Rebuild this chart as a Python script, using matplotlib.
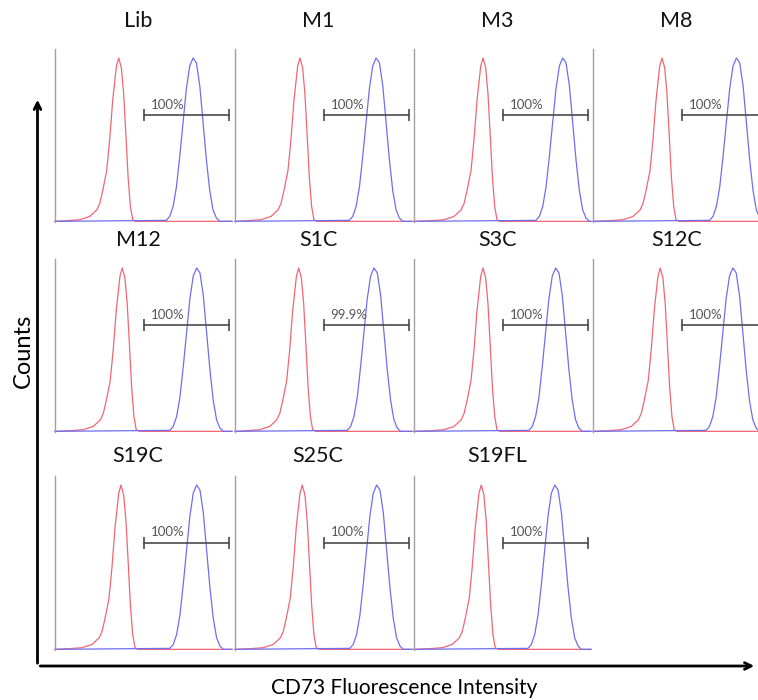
"""Flow cytometry overlays: CD73 staining (blue) vs isotype control (red) per clone."""
import numpy as np
import matplotlib
matplotlib.use("Agg")
import matplotlib.pyplot as plt
from matplotlib.patches import FancyArrowPatch

plt.rcParams["font.family"] = ["Lato", "DejaVu Sans"]

W, H = 758, 700

# sample names, row-major, 4 per row
SAMPLES = ["Lib", "M1", "M3", "M8",
           "M12", "S1C", "S3C", "S12C",
           "S19C", "S25C", "S19FL"]
GATE_PCT = ["100%", "100%", "100%", "100%",
            "100%", "99.9%", "100%", "100%",
            "100%", "100%", "100%"]
# peak positions on a 0-100 intensity scale
RED_PEAK = [36.0, 36.7, 39.0, 39.0, 38.0, 36.0, 39.0, 38.0, 37.3, 38.0, 38.0]
BLUE_PEAK = [78.0, 79.7, 84.0, 81.0, 80.0, 78.5, 80.0, 79.0, 80.0, 80.0, 79.5]

# normalised histogram profiles (offset from peak, relative count)
RED_OFF = [-29.4, -22.0, -16.4, -12.4, -10.7, -9.0, -6.8, -5.1, -3.4, -1.3,
           0.0, 1.5, 2.8, 4.0, 5.3, 6.6, 7.9, 9.6]
RED_H = [0.004, 0.01, 0.03, 0.07, 0.11, 0.19, 0.31, 0.50, 0.74, 0.95,
         1.0, 0.94, 0.78, 0.54, 0.27, 0.09, 0.01, 0.0]
BLUE_OFF = [-15.1, -13.2, -11.3, -9.4, -7.5, -5.7, -3.8, -1.9, 0.0,
            1.9, 3.8, 5.7, 7.5, 9.4, 11.3, 13.2, 15.1]
BLUE_H = [0.006, 0.03, 0.09, 0.21, 0.40, 0.60, 0.81, 0.95, 1.0,
          0.97, 0.83, 0.60, 0.38, 0.19, 0.07, 0.02, 0.0]

GATE = (50.3, 98.3)   # marker region on the intensity scale

RED = "#f26674"
BLUE = "#6e6ef0"

# panel geometry in pixels
COL_LEFT = [55, 235, 414, 593]
PANEL_W = 177
ROW_TOP = [49, 259, 476]
ROW_BOT = [222, 432, 650]
TITLE_Y = [21, 240, 456]


def curve(peak, off, h):
    x = [0.0] + [peak + o for o in off] + [100.0]
    y = [0.0] + list(h) + [0.0]
    return x, y


fig = plt.figure(figsize=(W / 100, H / 100), dpi=100)

for i, name in enumerate(SAMPLES):
    r, c = divmod(i, 4)
    left = COL_LEFT[c] / W
    bottom = 1 - ROW_BOT[r] / H
    height = (ROW_BOT[r] - ROW_TOP[r]) / H
    ax = fig.add_axes([left, bottom, PANEL_W / W, height])
    ax.set_xlim(0, 100)
    ax.set_ylim(-0.004, 1.055)
    for s in ("top", "right", "bottom"):
        ax.spines[s].set_visible(False)
    ax.spines["left"].set_color("#a0a0a0")
    ax.spines["left"].set_linewidth(1.0)
    ax.set_xticks([])
    ax.set_yticks([])
    ax.patch.set_alpha(0)

    xr, yr = curve(RED_PEAK[i], RED_OFF, RED_H)
    xb, yb = curve(BLUE_PEAK[i], BLUE_OFF, BLUE_H)
    ax.plot(xr, yr, color=RED, lw=0.9, clip_on=False)
    ax.plot(xb, yb, color=BLUE, lw=0.9, clip_on=False)

    # gate marker
    ax.plot(GATE, [0.65, 0.65], color="#4a4a4a", lw=1.2)
    ax.plot(GATE, [0.65, 0.65], ls="none", marker="|", ms=8, mew=1.2,
            color="#4a4a4a")
    ax.text(54, 0.715, GATE_PCT[i], fontsize=9.5, color="#555555",
            ha="left", va="center")

    fig.text((COL_LEFT[c] + 0.47 * PANEL_W) / W, 1 - TITLE_Y[r] / H, name,
             fontsize=15.5, ha="center", va="center", color="#111111")

# outer axes arrows
x0, y0 = 37.5 / W, 1 - 666 / H
fig.add_artist(FancyArrowPatch((x0, y0), (x0, 1 - 97 / H),
                               transform=fig.transFigure, arrowstyle="->",
                               mutation_scale=12, lw=2.0, color="black"))
fig.add_artist(FancyArrowPatch((x0, y0), (757 / W, y0),
                               transform=fig.transFigure, arrowstyle="->",
                               mutation_scale=12, lw=2.0, color="black"))

fig.text(23 / W, 1 - 351 / H, "Counts", rotation=90, fontsize=17,
         ha="center", va="center")
fig.text(404 / W, 1 - 688 / H, "CD73 Fluorescence Intensity", fontsize=15,
         ha="center", va="center")

fig.savefig("out.png", dpi=100)
